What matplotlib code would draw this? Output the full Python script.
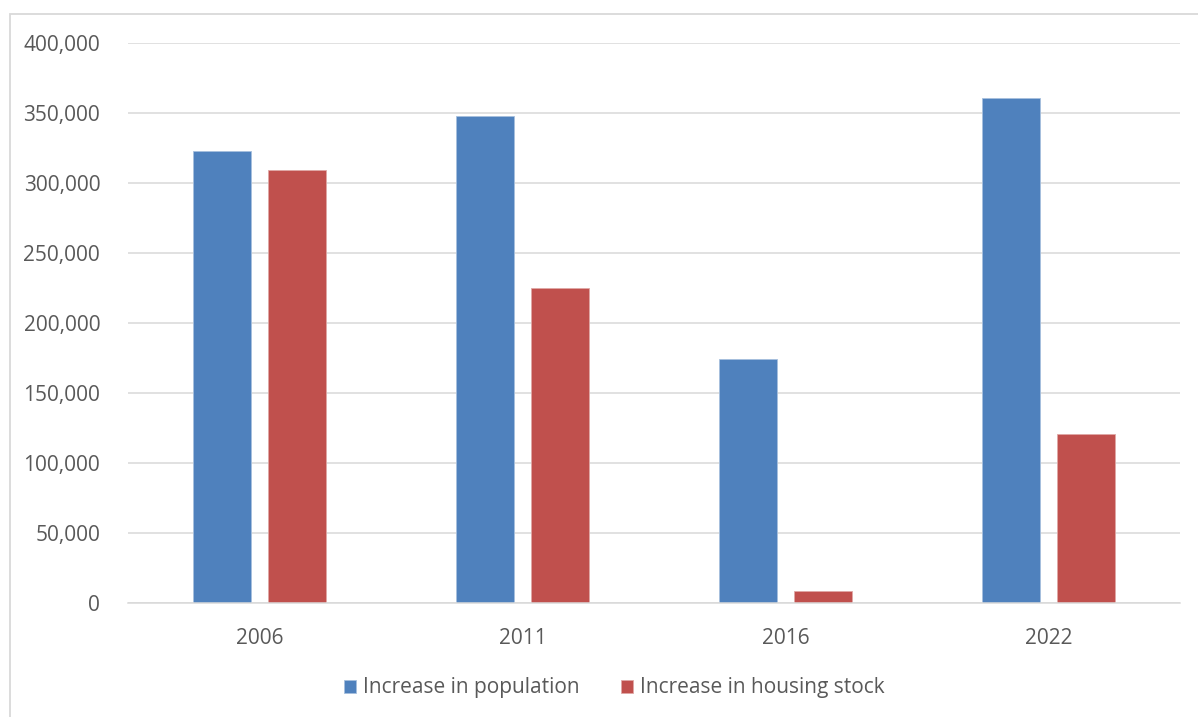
import matplotlib
matplotlib.use('Agg')
import matplotlib.pyplot as plt
from matplotlib.patches import Rectangle
from matplotlib.ticker import FuncFormatter
import numpy as np

plt.rcParams['font.family'] = ['Open Sans', 'DejaVu Sans']

# 数据
years = ['2006', '2011', '2016', '2022']
population = [323000, 348000, 174000, 361000]
housing = [309000, 225000, 8600, 121000]
series_names = ['Increase in population', 'Increase in housing stock']
blue = '#4F81BD'
red = '#C0504D'
text_color = '#595959'
grid_color = '#D9D9D9'

W, H = 1198, 717
fig = plt.figure(figsize=(W / 100, H / 100), dpi=100)
ax = fig.add_axes([128 / W, (H - 603) / H, (1180 - 128) / W, (603 - 43) / H])

x = np.arange(len(years))
width = 0.224
off = 0.1426
ax.bar(x - off, population, width, color=blue, edgecolor='#A7C0DE', linewidth=0.6,
       label=series_names[0], zorder=3)
ax.bar(x + off, housing, width, color=red, edgecolor='#E0A8A6', linewidth=0.6,
       label=series_names[1], zorder=3)

ax.set_xlim(-0.5, len(years) - 0.5)
ax.set_ylim(0, 400000)
ax.set_yticks(np.arange(0, 400001, 50000))
ax.yaxis.set_major_formatter(FuncFormatter(lambda v, p: f'{int(v):,}'))
ax.set_xticks(x)
ax.set_xticklabels(years)

ax.grid(axis='y', color=grid_color, linewidth=1.1, zorder=0)
for s in ['top', 'right', 'left']:
    ax.spines[s].set_visible(False)
ax.spines['bottom'].set_color(grid_color)
ax.spines['bottom'].set_linewidth(1.1)
ax.spines['bottom'].set_zorder(4)
ax.tick_params(axis='both', length=0, labelsize=15, colors=text_color)
ax.tick_params(axis='y', pad=20)
ax.tick_params(axis='x', pad=18)

leg = fig.legend(loc='center', bbox_to_anchor=(614 / W, (H - 688) / H), ncol=2,
                 frameon=False, fontsize=15, handlelength=0.6, handleheight=0.6,
                 handletextpad=0.3, columnspacing=2.0)
for t in leg.get_texts():
    t.set_color(text_color)

# 外框
fig.patches.append(Rectangle((10 / W, -0.1), 1.2, (H - 14) / H + 0.1,
                             transform=fig.transFigure, fill=False,
                             edgecolor=grid_color, linewidth=1.3))

fig.savefig('out.png', dpi=100)
